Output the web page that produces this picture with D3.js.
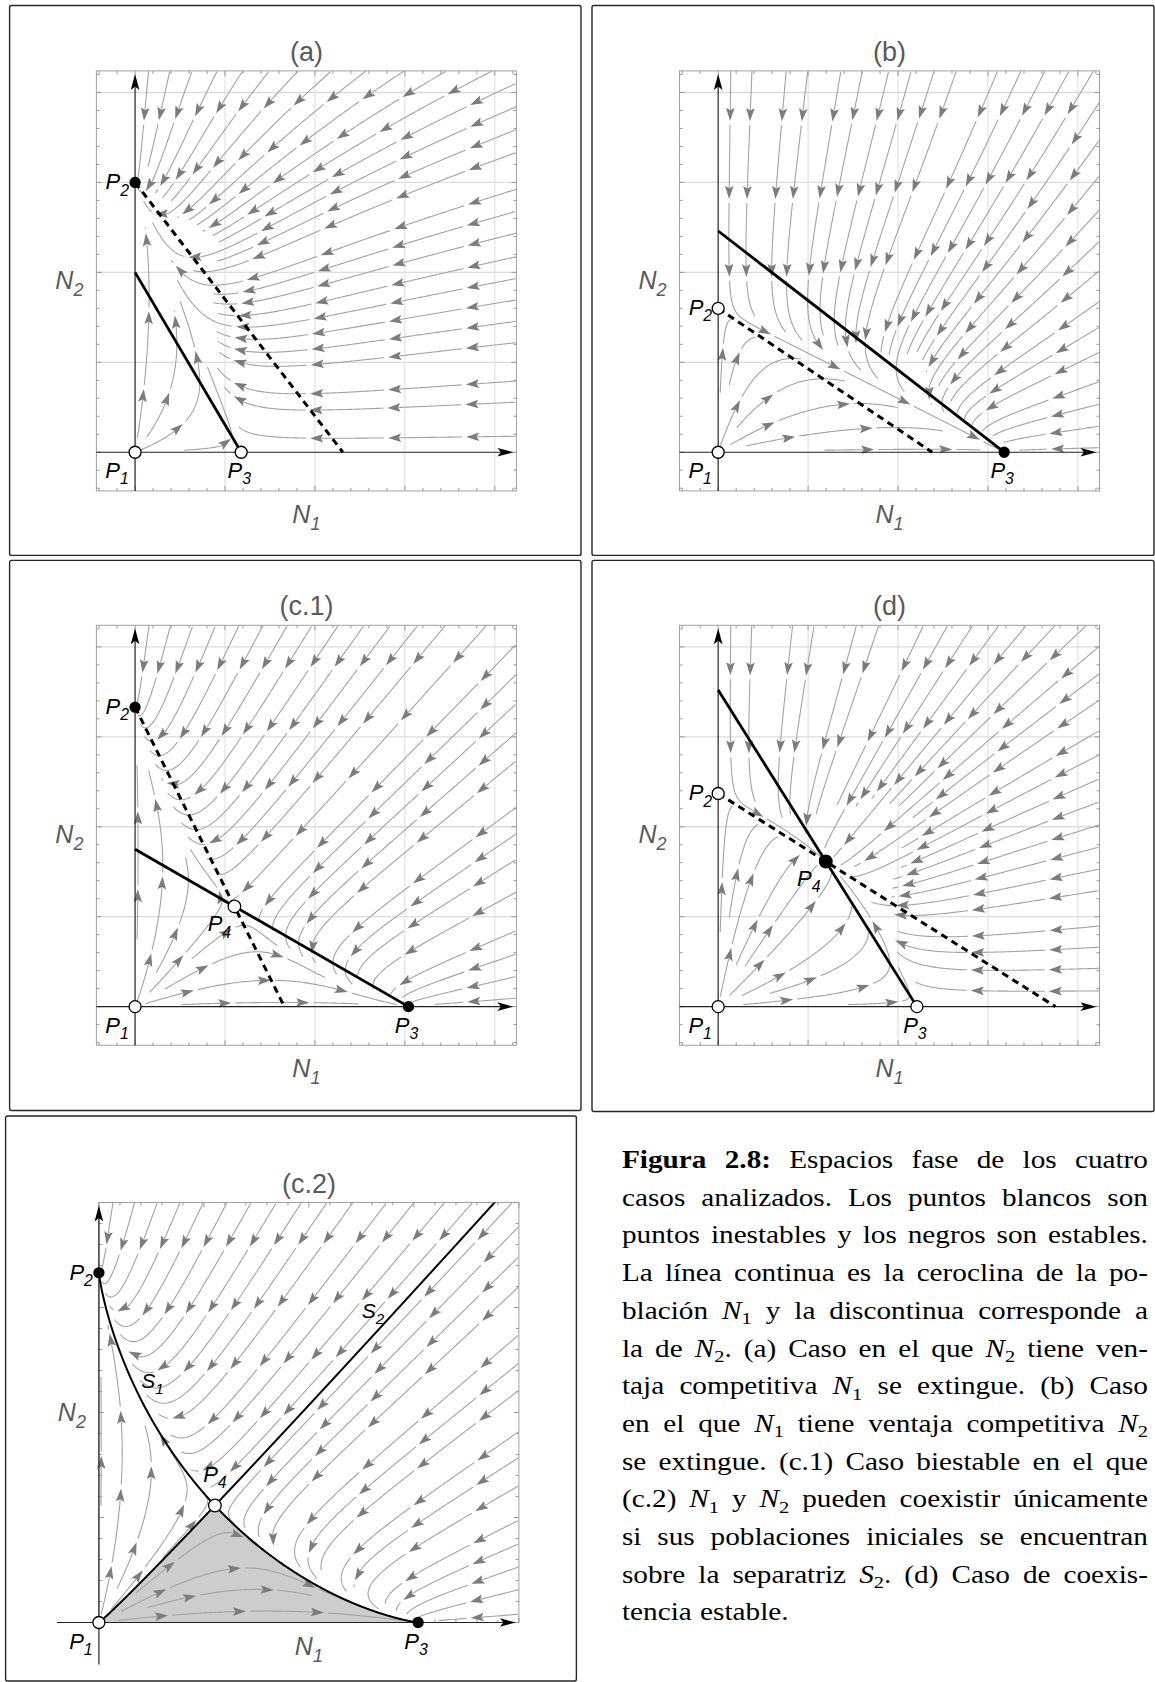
<!DOCTYPE html>
<html>
<head>
<meta charset="utf-8">
<script src="https://cdn.jsdelivr.net/npm/d3@7"></script>
<style>
  body { margin: 0; background: #fff; }
  svg { display: block; }
</style>
</head>
<body>
<script>
const W = 1155, H = 1682;

// panels, in drawing order
const panelNames = ["(a)", "(b)", "(c.1)", "(d)", "(c.2)"];
// ceroclina de N1 (línea continua): cortes con el eje N1 (K1) y con el eje N2 (K1/a12)
const solidN1 = [1.18, 3.18, 3.04, 2.21, 3.04];
const solidN2 = [2.0, 2.46, 1.75, 3.52, 1.75];
// ceroclina de N2 (discontinua): cortes con el eje N2 (K2) y con el eje N1 (K2/a21)
const dashN2 = [3.0, 1.6, 3.33, 2.37, 3.33];
const dashN1 = [2.31, 2.38, 1.66, 3.75, 1.66];
// growth-rate ratio r2/r1
const rateRatio = [1, 1, 1.06, 1, 1.06];
// plot ranges (same on both axes)
const domMin = [-0.43, -0.43, -0.43, -0.43, 0];
const domMax = [4.24, 4.24, 4.24, 4.24, 4];
// separatrix labels for (c.2), data coords
const sepLabels = [["S", "1", 0.51, 2.30], ["S", "2", 2.61, 2.97]];

const captionLines = [
  "^Figura ^2.8: Espacios fase de los cuatro",
  "casos analizados. Los puntos blancos son",
  "puntos inestables y los negros son estables.",
  "La línea continua es la ceroclina de la po-",
  "blación $N_1$ y la discontinua corresponde a",
  "la de $N_2$. (a) Caso en el que $N_2$ tiene ven-",
  "taja competitiva $N_1$ se extingue. (b) Caso",
  "en el que $N_1$ tiene ventaja competitiva $N_2$",
  "se extingue. (c.1) Caso biestable en el que",
  "(c.2) $N_1$ y $N_2$ pueden coexistir únicamente",
  "si sus poblaciones iniciales se encuentran",
  "sobre la separatriz $S_2$. (d) Caso de coexis-",
  "tencia estable."
];

// layout
const frameX = [96.4, 679.5, 96.4, 679.5, 98.9];
const frameY = [70.9, 70.9, 625.3, 625.3, 1202.5];
const FS = 420;
const boxes = [
  [9.6, 5.5, 581, 555.4], [592, 5.5, 1154, 555.4],
  [9.6, 560.4, 581, 1110.5], [592, 560.4, 1154, 1111.5],
  [5.6, 1116, 576.4, 1681]
];
const p4Off = [null, null, [-15, 25], [-17, 24], [0, -24]];

const svg = d3.select("body").append("svg")
  .attr("width", W).attr("height", H)
  .style("font-family", "'Liberation Sans', Arial, sans-serif");

function subLabel(g, x, y, base, sub, size, color, anchor) {
  const t = g.append("text").attr("x", x).attr("y", y)
    .attr("font-size", size).attr("font-style", "italic")
    .attr("fill", color).attr("text-anchor", anchor || "middle");
  t.append("tspan").text(base);
  t.append("tspan").text(sub).attr("font-size", size * 0.72).attr("dy", size * 0.28);
  return t;
}

// evenly spaced streamlines in pixel space
function makeStreams(dirFn, bx0, by0, bx1, by1, dsep, dtest, h) {
  const nx = Math.ceil((bx1 - bx0) / dsep) + 1, ny = Math.ceil((by1 - by0) / dsep) + 1;
  const cells = Array.from({ length: nx * ny }, () => []);
  const inside = (px, py) => px >= bx0 && px <= bx1 && py >= by0 && py <= by1;
  function ok(px, py, d) {
    const ci = Math.floor((px - bx0) / dsep), cj = Math.floor((py - by0) / dsep);
    for (let a = ci - 1; a <= ci + 1; a++) for (let b = cj - 1; b <= cj + 1; b++) {
      if (a < 0 || b < 0 || a >= nx || b >= ny) continue;
      for (const q of cells[b * nx + a]) {
        const dx = q[0] - px, dy = q[1] - py;
        if (dx * dx + dy * dy < d * d) return false;
      }
    }
    return true;
  }
  function add(p) {
    const ci = Math.floor((p[0] - bx0) / dsep), cj = Math.floor((p[1] - by0) / dsep);
    if (ci >= 0 && cj >= 0 && ci < nx && cj < ny) cells[cj * nx + ci].push(p);
  }
  function step(p, s) {
    const d1 = dirFn(p[0], p[1]);
    if (!d1) return null;
    const m = [p[0] + s * d1[0] * h / 2, p[1] + s * d1[1] * h / 2];
    const d2 = dirFn(m[0], m[1]);
    if (!d2 || d1[0] * d2[0] + d1[1] * d2[1] < 0.5) return null;
    return [p[0] + s * d2[0] * h, p[1] + s * d2[1] * h];
  }
  function trace(seed, s) {
    const pts = [];
    let p = seed;
    for (let k = 0; k < 3000; k++) {
      const q = step(p, s);
      if (!q || !inside(q[0], q[1]) || !ok(q[0], q[1], dtest)) break;
      pts.push(q);
      p = q;
    }
    return pts;
  }
  const lines = [], queue = [];
  function tryseed(sd) {
    if (!inside(sd[0], sd[1]) || !ok(sd[0], sd[1], dsep) || !dirFn(sd[0], sd[1])) return;
    const fw = trace(sd, 1), bw = trace(sd, -1);
    const pts = bw.reverse().concat([sd], fw);
    if (pts.length * h < 22) return;
    pts.forEach(add);
    lines.push(pts);
    for (let k = 0; k < pts.length; k += 3) {
      const a = pts[Math.max(0, k - 1)], c = pts[Math.min(pts.length - 1, k + 1)];
      let tx = c[0] - a[0], ty = c[1] - a[1];
      const L = Math.hypot(tx, ty) || 1;
      tx /= L; ty /= L;
      queue.push([pts[k][0] - ty * dsep, pts[k][1] + tx * dsep]);
      queue.push([pts[k][0] + ty * dsep, pts[k][1] - tx * dsep]);
    }
  }
  const gridSeeds = [];
  for (let yy = by0 + dsep / 2; yy < by1; yy += dsep)
    for (let xx = bx0 + dsep / 2; xx < bx1; xx += dsep) gridSeeds.push([xx, yy]);
  let gi = 0;
  while (queue.length || gi < gridSeeds.length) {
    if (queue.length) tryseed(queue.shift());
    else tryseed(gridSeeds[gi++]);
  }
  return lines;
}

function drawStreams(g, lines) {
  const ARR = 13, GAP = 4, SPACING = 78;
  lines.forEach(pts => {
    const cum = [0];
    for (let k = 1; k < pts.length; k++)
      cum.push(cum[k - 1] + Math.hypot(pts[k][0] - pts[k - 1][0], pts[k][1] - pts[k - 1][1]));
    const L = cum[cum.length - 1];
    const at = s => {
      s = Math.max(0, Math.min(L, s));
      let k = d3.bisectLeft(cum, s);
      if (k <= 0) return pts[0];
      const t = (s - cum[k - 1]) / ((cum[k] - cum[k - 1]) || 1);
      return [pts[k - 1][0] + t * (pts[k][0] - pts[k - 1][0]), pts[k - 1][1] + t * (pts[k][1] - pts[k - 1][1])];
    };
    const sub = (s0, s1) => {
      const out = [at(s0)];
      for (let k = 0; k < pts.length; k++) if (cum[k] > s0 && cum[k] < s1) out.push(pts[k]);
      out.push(at(s1));
      return out;
    };
    const tips = [];
    if (L >= 26) {
      for (let s = Math.min(50, L * 0.6); s <= L - 2; s += SPACING) tips.push(Math.max(s, ARR));
    }
    let start = 0;
    const segs = [];
    tips.forEach(s => { if (s - ARR + 2 > start) segs.push(sub(start, s - ARR + 2)); start = s + GAP; });
    if (start < L) segs.push(sub(start, L));
    segs.forEach(sg => g.append("path").attr("d", d3.line()(sg))
      .attr("fill", "none").attr("stroke", "#a3a3a3").attr("stroke-width", 1.1));
    tips.forEach(s => {
      const tip = at(s), base = at(s - ARR);
      let dx = tip[0] - base[0], dy = tip[1] - base[1];
      const n = Math.hypot(dx, dy) || 1;
      dx /= n; dy /= n;
      const px = -dy, py = dx, w = 4.3;
      const b = [tip[0] - dx * ARR, tip[1] - dy * ARR];
      const notch = [tip[0] - dx * ARR * 0.82, tip[1] - dy * ARR * 0.82];
      g.append("path")
        .attr("d", `M${tip}L${b[0] + px * w},${b[1] + py * w}L${notch}L${b[0] - px * w},${b[1] - py * w}Z`)
        .attr("fill", "#7c7c7c");
    });
  });
}

function axisArrow(g, tip, ang) {
  const c = Math.cos(ang), s = Math.sin(ang);
  const pt = (u, v) => [tip[0] + u * c - v * s, tip[1] + u * s + v * c];
  g.append("path")
    .attr("d", `M${pt(0, 0)}L${pt(-16, 4.3)}L${pt(-12.5, 0)}L${pt(-16, -4.3)}Z`)
    .attr("fill", "#000");
}

function drawPanel(i) {
  const K1 = solidN1[i], K2 = dashN2[i], r = rateRatio[i];
  const a12 = K1 / solidN2[i], a21 = K2 / dashN1[i];
  const F = (n1, n2) => [n1 * (1 - (n1 + a12 * n2) / K1), r * n2 * (1 - (n2 + a21 * n1) / K2)];
  const fx = frameX[i], fy = frameY[i];
  const x = d3.scaleLinear().domain([domMin[i], domMax[i]]).range([fx, fx + FS]);
  const y = d3.scaleLinear().domain([domMin[i], domMax[i]]).range([fy + FS, fy]);
  const g = svg.append("g");

  const b = boxes[i];
  g.append("rect").attr("x", b[0]).attr("y", b[1]).attr("width", b[2] - b[0]).attr("height", b[3] - b[1])
    .attr("rx", 2).attr("fill", "none").attr("stroke", "#262626").attr("stroke-width", 1.4);

  // grid
  if (i !== 4) {
    d3.range(1, Math.floor(domMax[i]) + 1).forEach(v => {
      g.append("line").attr("x1", x(v)).attr("x2", x(v)).attr("y1", fy).attr("y2", fy + FS)
        .attr("stroke", "#dcdcdc").attr("stroke-width", 1);
      g.append("line").attr("y1", y(v)).attr("y2", y(v)).attr("x1", fx).attr("x2", fx + FS)
        .attr("stroke", "#dcdcdc").attr("stroke-width", 1.3);
    });
  }
  // frame and ticks
  g.append("rect").attr("x", fx).attr("y", fy).attr("width", FS).attr("height", FS)
    .attr("fill", "none").attr("stroke", "#a0a0a0").attr("stroke-width", 1);
  const tv = d3.range(Math.ceil(domMin[i] / 0.2 - 1e-9), Math.floor(domMax[i] / 0.2 + 1e-9) + 1).map(t => t * 0.2);
  tv.forEach(v => {
    const len = Math.abs(v - Math.round(v)) < 1e-6 ? 5 : 3;
    const X = x(v), Y = y(v);
    [[X, fy + FS, X, fy + FS - len], [X, fy, X, fy + len], [fx, Y, fx + len, Y], [fx + FS, Y, fx + FS - len, Y]]
      .forEach(l => g.append("line").attr("x1", l[0]).attr("y1", l[1]).attr("x2", l[2]).attr("y2", l[3])
        .attr("stroke", "#999").attr("stroke-width", 1));
  });

  // fixed points
  const P1 = [0, 0], P2 = [0, K2], P3 = [K1, 0];
  const p2Stable = solidN2[i] < K2, p3Stable = dashN1[i] < K1;
  let P4 = null, p4Stable = false;
  if (p2Stable === p3Stable) {
    const n1 = (K1 - a12 * K2) / (1 - a12 * a21);
    P4 = [n1, K2 - a21 * n1];
    p4Stable = !p2Stable;
  }

  // separatrices for (c.2)
  let S1 = null, S2up = null, S2low = null;
  if (i === 4 && P4) {
    const J11 = -P4[0] / K1, J12 = -a12 * P4[0] / K1, J21 = -r * a21 * P4[1] / K2, J22 = -r * P4[1] / K2;
    const tr = J11 + J22, det = J11 * J22 - J12 * J21;
    const disc = Math.sqrt(tr * tr / 4 - det);
    const lu = tr / 2 + disc, ls = tr / 2 - disc;
    const vec = l => { const v = [J12, l - J11]; const n = Math.hypot(v[0], v[1]); return [v[0] / n, v[1] / n]; };
    const vu = vec(lu), vs = vec(ls);
    const sinks = [P1, P2, P3];
    const traceM = (v, sgn, dirSign) => {
      let p = [P4[0] + sgn * 0.002 * v[0], P4[1] + sgn * 0.002 * v[1]];
      const out = [P4.slice(), p.slice()];
      const ds = 0.004;
      const d = pp => { const f = F(pp[0], pp[1]); const m = Math.hypot(f[0], f[1]); return m < 1e-12 ? null : [dirSign * f[0] / m, dirSign * f[1] / m]; };
      for (let n = 0; n < 5000; n++) {
        const d1 = d(p); if (!d1) break;
        const d2 = d([p[0] + d1[0] * ds / 2, p[1] + d1[1] * ds / 2]); if (!d2) break;
        p = [p[0] + d2[0] * ds, p[1] + d2[1] * ds];
        const hit = sinks.find(s => Math.hypot(p[0] - s[0], p[1] - s[1]) < 0.012);
        if (hit) { out.push(hit.slice()); break; }
        out.push(p.slice());
        if (p[0] > domMax[i] + 0.2 || p[1] > domMax[i] + 0.2) break;
      }
      return out;
    };
    const u1 = traceM(vu, 1, 1), u2 = traceM(vu, -1, 1);
    S1 = u1.slice().reverse().concat(u2.slice(1));
    const s1 = traceM(vs, 1, -1), s2 = traceM(vs, -1, -1);
    const endsLow = s => { const e = s[s.length - 1]; return e[0] + e[1] < P4[0] + P4[1]; };
    S2low = endsLow(s1) ? s1 : s2;
    S2up = endsLow(s1) ? s2 : s1;
    const S1low = (u1[u1.length - 1][1] < 0.05) ? u1 : u2;
    // shaded basin
    const poly = S2low.slice().reverse().concat(S1low.slice(1)).map(p => [x(p[0]), y(p[1])]);
    g.append("path").attr("d", d3.line()(poly) + "Z").attr("fill", "#cdcdcd");
  }

  // streamlines
  const dirFn = (px, py) => {
    const f = F(x.invert(px), y.invert(py));
    const m = Math.hypot(f[0], f[1]);
    if (m < 1e-3) return null;
    return [f[0] / m, -f[1] / m];
  };
  const lines = makeStreams(dirFn, x(0) + 2, y(domMax[i]), x(domMax[i]), y(0) - 2, 21, 8.5, 1.5);
  drawStreams(g.append("g"), lines);

  // axes
  const axFrom = i === 4 ? -0.4 : domMin[i];
  g.append("line").attr("x1", x(axFrom)).attr("x2", x(domMax[i]) - 14).attr("y1", y(0)).attr("y2", y(0))
    .attr("stroke", "#222").attr("stroke-width", 1.2);
  axisArrow(g, [x(domMax[i]) - 3, y(0)], 0);
  g.append("line").attr("x1", x(0)).attr("x2", x(0)).attr("y1", y(axFrom)).attr("y2", y(domMax[i]) + 14)
    .attr("stroke", "#222").attr("stroke-width", 1.2);
  axisArrow(g, [x(0), y(domMax[i]) + 3], -Math.PI / 2);

  // ceroclinas or separatrices
  if (i !== 4) {
    g.append("line").attr("x1", x(0)).attr("y1", y(solidN2[i])).attr("x2", x(K1)).attr("y2", y(0))
      .attr("stroke", "#000").attr("stroke-width", 2.8);
    g.append("line").attr("x1", x(0)).attr("y1", y(K2)).attr("x2", x(dashN1[i])).attr("y2", y(0))
      .attr("stroke", "#000").attr("stroke-width", 3).attr("stroke-dasharray", "7,5");
  } else {
    const clipId = "clipc2";
    svg.append("clipPath").attr("id", clipId).append("rect")
      .attr("x", fx).attr("y", fy).attr("width", FS).attr("height", FS);
    const ln = d3.line().x(p => x(p[0])).y(p => y(p[1]));
    [S1, S2low, S2up].forEach(s => g.append("path").attr("d", ln(s)).attr("clip-path", `url(#${clipId})`)
      .attr("fill", "none").attr("stroke", "#000").attr("stroke-width", 2));
    sepLabels.forEach(l => subLabel(g, x(l[2]), y(l[3]) + 7, l[0], l[1], 21, "#000"));
  }

  // points
  const pt = (p, stable, rad) => g.append("circle").attr("cx", x(p[0])).attr("cy", y(p[1]))
    .attr("r", rad).attr("fill", stable ? "#000" : "#fff").attr("stroke", "#000").attr("stroke-width", 1.3);
  pt(P1, false, 6);
  pt(P2, p2Stable, p2Stable ? 5 : 6);
  pt(P3, p3Stable, p3Stable ? 5 : 6);
  if (P4) pt(P4, p4Stable, 6.3);

  subLabel(g, x(0) - 18, y(0) + 26, "P", "1", 22, "#000");
  subLabel(g, x(0) - 6, y(K2) + 7, "P", "2", 22, "#000", "end");
  subLabel(g, x(K1) - 2, y(0) + 26, "P", "3", 22, "#000");
  if (P4) subLabel(g, x(P4[0]) + p4Off[i][0], y(P4[1]) + p4Off[i][1], "P", "4", 22, "#000");

  // titles and axis names
  g.append("text").attr("x", fx + FS / 2).attr("y", fy - 10).attr("text-anchor", "middle")
    .attr("font-size", 27).attr("fill", "#5a5a5a").text(panelNames[i]);
  subLabel(g, fx + FS / 2, fy + FS + 32, "N", "1", 25, "#5a5a5a");
  subLabel(g, fx - 27, fy + FS / 2 + 8, "N", "2", 25, "#5a5a5a");
}

panelNames.forEach((n, i) => drawPanel(i));

// caption
function parseWord(w) {
  const bold = w.startsWith("^");
  if (bold) w = w.slice(1);
  const runs = [];
  const re = /\$([A-Za-z])_(\w)\$/g;
  let last = 0, m;
  while ((m = re.exec(w))) {
    if (m.index > last) runs.push({ t: w.slice(last, m.index), b: bold });
    runs.push({ t: m[1], it: true });
    runs.push({ t: m[2], sub: true });
    last = re.lastIndex;
  }
  if (last < w.length) runs.push({ t: w.slice(last), b: bold });
  return runs;
}
const capX0 = 622, capX1 = 1148, capY0 = 1168, capDY = 37.7, capSize = 25, capStretch = 1.17;
const cap = svg.append("g").style("font-family", "'Liberation Serif', 'Times New Roman', serif")
  .attr("font-size", capSize).attr("fill", "#000");
captionLines.forEach((line, li) => {
  const words = line.split(" ");
  const yy = capY0 + li * capDY;
  const nodes = words.map(w => {
    const t = cap.append("text").attr("x", 0).attr("y", 0);
    let shift = 0;
    parseWord(w).forEach(rn => {
      const ts = t.append("tspan").text(rn.t);
      const target = rn.sub ? capSize * 0.22 : 0;
      if (target !== shift) { ts.attr("dy", target - shift); shift = target; }
      if (rn.sub) ts.attr("font-size", capSize * 0.7);
      if (rn.it) ts.attr("font-style", "italic");
      if (rn.b) ts.attr("font-weight", "bold");
    });
    return t;
  });
  let widths = nodes.map(n => n.node().getComputedTextLength() * capStretch);
  const last = li === captionLines.length - 1;
  let sx = capStretch;
  let gap = last ? capSize * 0.33 : (capX1 - capX0 - d3.sum(widths)) / (words.length - 1);
  if (!last && gap < 5) {
    // tighten the glyph stretch when a line would overflow
    const raw = d3.sum(widths) / capStretch;
    sx = (capX1 - capX0 - 5 * (words.length - 1)) / raw;
    widths = widths.map(w => w / capStretch * sx);
    gap = 5;
  }
  let xx = capX0;
  nodes.forEach((n, k) => {
    n.attr("transform", `translate(${xx},${yy}) scale(${sx},1)`);
    xx += widths[k] + gap;
  });
});
</script>
</body>
</html>
